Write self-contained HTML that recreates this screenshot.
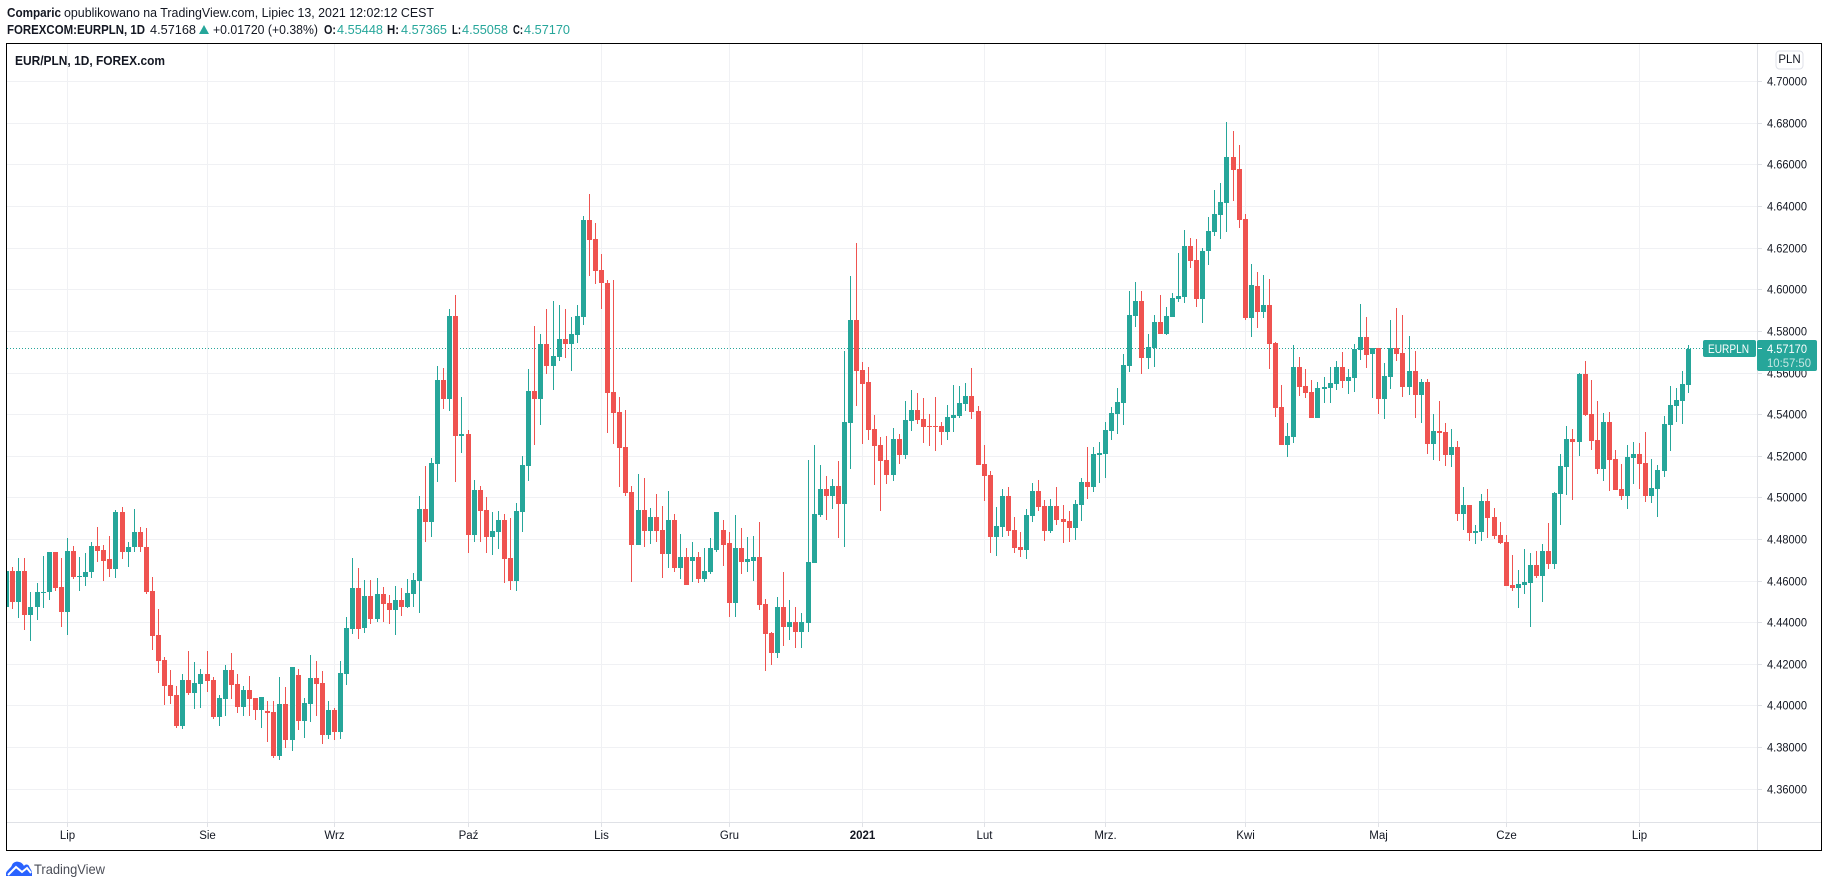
<!DOCTYPE html>
<html lang="pl">
<head>
<meta charset="utf-8">
<title>EUR/PLN, 1D, FOREX.com</title>
<style>
html,body{margin:0;padding:0;background:#fff;width:1828px;height:887px;overflow:hidden}
svg{display:block}
text{font-family:"Liberation Sans",sans-serif;fill:#131722}
.c{shape-rendering:crispEdges}
</style>
</head>
<body>
<svg id="root" width="1828" height="887" viewBox="0 0 1828 887" xmlns="http://www.w3.org/2000/svg">
  <defs><clipPath id="paneClip"><rect x="7" y="44" width="1750" height="778"/></clipPath></defs>
  <g>
    <text x="7" y="17" font-size="12.5" font-weight="700" textLength="54" lengthAdjust="spacingAndGlyphs">Comparic</text>
    <text x="64" y="17" font-size="12.5" textLength="370" lengthAdjust="spacingAndGlyphs">opublikowano na TradingView.com, Lipiec 13, 2021 12:02:12 CEST</text>
    <text x="7" y="34" font-size="12.5" font-weight="700" textLength="138" lengthAdjust="spacingAndGlyphs">FOREXCOM:EURPLN, 1D</text>
    <text x="150" y="34" font-size="12.5" textLength="46" lengthAdjust="spacingAndGlyphs">4.57168</text>
    <polygon points="199,34 209,34 204,25" fill="#26a69a"/>
    <text x="213" y="34" font-size="12.5" textLength="105" lengthAdjust="spacingAndGlyphs">+0.01720 (+0.38%)</text>
    <text x="324" y="34" font-size="12.5" font-weight="700" textLength="12" lengthAdjust="spacingAndGlyphs">O:</text>
    <text x="337" y="34" font-size="12.5" style="fill:#26a69a" textLength="46" lengthAdjust="spacingAndGlyphs">4.55448</text>
    <text x="387" y="34" font-size="12.5" font-weight="700" textLength="12" lengthAdjust="spacingAndGlyphs">H:</text>
    <text x="401" y="34" font-size="12.5" style="fill:#26a69a" textLength="46" lengthAdjust="spacingAndGlyphs">4.57365</text>
    <text x="452" y="34" font-size="12.5" font-weight="700" textLength="9" lengthAdjust="spacingAndGlyphs">L:</text>
    <text x="462" y="34" font-size="12.5" style="fill:#26a69a" textLength="46" lengthAdjust="spacingAndGlyphs">4.55058</text>
    <text x="513" y="34" font-size="12.5" font-weight="700" textLength="10" lengthAdjust="spacingAndGlyphs">C:</text>
    <text x="524" y="34" font-size="12.5" style="fill:#26a69a" textLength="46" lengthAdjust="spacingAndGlyphs">4.57170</text>
  </g>
  <g id="grid" class="c"></g>
  <g id="axes"></g>
  <g id="lastLine"></g>
  <g id="candles" class="c" clip-path="url(#paneClip)"></g>
  <text x="15" y="65" font-size="13" font-weight="700" textLength="150" lengthAdjust="spacingAndGlyphs">EUR/PLN, 1D, FOREX.com</text>
  <g>
    <rect x="1776" y="51" width="27" height="18" rx="3.5" fill="#fff" stroke="#dfe1e8"/>
    <text x="1789.5" y="63" font-size="11.5" text-anchor="middle">PLN</text>
  </g>
  <g id="tags">
    <rect x="1703" y="340" width="53" height="17" rx="2" fill="#26a69a"/>
    <text x="1708" y="353" font-size="11.5" style="fill:#fff" textLength="41" lengthAdjust="spacingAndGlyphs">EURPLN</text>
    <rect x="1757" y="340" width="60" height="31" rx="2" fill="#26a69a"/>
    <rect x="1758" y="348" width="4" height="1" fill="#fff" class="c"/>
    <text x="1767" y="353" font-size="11.5" style="fill:#fff" textLength="40" lengthAdjust="spacingAndGlyphs">4.57170</text>
    <text x="1767" y="367" font-size="11.5" style="fill:#c4e6e2" textLength="44" lengthAdjust="spacingAndGlyphs">10:57:50</text>
  </g>
  <rect x="6.5" y="43.5" width="1815" height="807" fill="none" stroke="#000" stroke-width="1" class="c"/>
  <g>
    <path d="M6 876 L6 873 C7 870 11 868 12 865 C13 862 17 861 19 862 C21 862 23 864 24 866 C25 864 28 864 29 866 C30 869 32 870 32 873 L32 876 Z" fill="#2962ff"/>
    <path d="M8 875 L16 867 L22 872 L27 868 L31 873" fill="none" stroke="#fff" stroke-width="2"/>
    <text x="34" y="874" font-size="14" style="fill:#4a4d57" textLength="71" lengthAdjust="spacingAndGlyphs">TradingView</text>
  </g>
</svg>
<script>
const opens = [4.4475,
4.4651,4.4499,4.4651,4.4435,4.4474,4.4541,4.4546,4.4742,4.4570,4.4450,
4.4747,4.4618,4.4622,4.4642,4.4771,4.4752,4.4704,4.4656,4.4934,4.4742,
4.4762,4.4834,4.4766,4.4555,4.4339,4.4219,4.4099,4.4051,4.3902,4.4123,
4.4061,4.4104,4.4152,4.4123,4.3946,4.4032,4.4171,4.4104,4.3994,4.4075,
4.4037,4.3979,4.3974,4.3970,4.3758,4.4008,4.3835,4.4147,4.3926,4.4008,
4.4133,4.4109,4.3859,4.3979,4.3874,4.4152,4.4368,4.4565,4.4375,4.4528,
4.4418,4.4538,4.4494,4.4461,4.4509,4.4475,4.4538,4.4600,4.4946,4.4883,
4.5162,4.5565,4.5474,4.5872,4.5296,4.5306,4.4821,4.5037,4.4941,4.4811,
4.4835,4.4893,4.4710,4.4600,4.4931,4.5152,4.5512,4.5474,4.5738,4.5632,
4.5675,4.5762,4.5738,4.5781,4.5867,4.6336,4.6244,4.6096,4.6035,4.5507,
4.5411,4.5243,4.5027,4.4773,4.4941,4.4840,4.4907,4.4845,4.4730,4.4893,
4.4662,4.4715,4.4699,4.4714,4.4608,4.4646,4.4752,4.4848,4.4781,4.4493,
4.4757,4.4690,4.4699,4.4718,4.4488,4.4349,4.4253,4.4478,4.4378,4.4402,
4.4354,4.4397,4.4685,4.4920,4.5045,4.5011,4.5059,4.4973,4.5362,4.5855,
4.5615,4.5558,4.5333,4.5256,4.5184,4.5112,4.5285,4.5208,4.5371,4.5424,
4.5381,4.5347,4.5347,4.5347,4.5318,4.5386,4.5395,4.5453,4.5491,4.5419,
4.5165,4.5112,4.4814,4.4862,4.5011,4.4848,4.4762,4.4752,4.4915,4.5035,
4.4963,4.4843,4.4963,4.4901,4.4891,4.4853,4.4968,4.5078,4.5050,4.5208,
4.5213,4.5323,4.5405,4.5458,4.5635,4.5875,4.5947,4.5674,4.5722,4.5846,
4.5789,4.5870,4.5957,4.5966,4.6211,4.6144,4.5957,4.6187,4.6278,4.6360,
4.6418,4.6638,4.6581,4.6341,4.5866,4.6019,4.5894,4.5928,4.5746,4.5438,
4.5256,4.5294,4.5630,4.5539,4.5510,4.5386,4.5525,4.5530,4.5549,4.5630,
4.5563,4.5578,4.5712,4.5774,4.5691,4.5720,4.5475,4.5581,4.5720,4.5696,
4.5533,4.5610,4.5494,4.5557,4.5259,4.5322,4.5317,4.5206,4.5245,4.4923,
4.4966,4.4832,4.4837,4.4986,4.4909,4.4822,4.4789,4.4582,4.4568,4.4582,
4.4592,4.4678,4.4626,4.4746,4.4683,4.5019,4.5149,4.5283,4.5269,4.5595,
4.5403,4.5278,4.5139,4.5365,4.5187,4.5043,4.5010,4.5192,4.5211,4.5168,
4.5010,4.5043,4.5130,4.5350,4.5442,4.5466,4.55448];
const highs = [4.4670,
4.4670,4.4709,4.4709,4.4550,4.4589,4.4723,4.4742,4.4742,4.4709,4.4805,
4.4771,4.4714,4.4733,4.4786,4.4862,4.4776,4.4819,4.4944,4.4954,4.4790,
4.4949,4.4858,4.4853,4.4618,4.4464,4.4234,4.4171,4.4094,4.4152,4.4262,
4.4210,4.4176,4.4262,4.4138,4.4051,4.4195,4.4253,4.4152,4.4094,4.4142,
4.4037,4.4042,4.4022,4.4022,4.4138,4.4090,4.4186,4.4176,4.4037,4.4243,
4.4214,4.4166,4.4022,4.3989,4.4214,4.4426,4.4709,4.4661,4.4605,4.4605,
4.4614,4.4571,4.4533,4.4576,4.4566,4.4610,4.4638,4.5008,4.5152,4.5190,
4.5632,4.5622,4.5906,4.5973,4.5483,4.5325,4.5085,4.5056,4.5003,4.4931,
4.4936,4.4922,4.4902,4.4974,4.5200,4.5618,4.5824,4.5786,4.5910,4.5944,
4.5925,4.5906,4.5867,4.5925,4.6355,4.6460,4.6321,4.6172,4.6045,4.6045,
4.5483,4.5421,4.5056,4.5114,4.5094,4.4950,4.5018,4.4960,4.5032,4.4922,
4.4826,4.4759,4.4790,4.4742,4.4757,4.4805,4.4934,4.4896,4.4838,4.4920,
4.4853,4.4810,4.4819,4.4882,4.4512,4.4358,4.4522,4.4642,4.4507,4.4474,
4.4445,4.5184,4.5256,4.5160,4.5107,4.5093,4.5179,4.5706,4.6067,4.6225,
4.5654,4.5630,4.5400,4.5294,4.5299,4.5338,4.5309,4.5467,4.5520,4.5506,
4.5482,4.5405,4.5486,4.5366,4.5448,4.5544,4.5539,4.5554,4.5624,4.5443,
4.5256,4.5131,4.4958,4.5045,4.5050,4.4910,4.4834,4.4949,4.5074,4.5088,
4.4992,4.4997,4.5054,4.4968,4.4939,4.4992,4.5098,4.5246,4.5246,4.5270,
4.5366,4.5438,4.5530,4.5693,4.5995,4.6038,4.5995,4.5789,4.5880,4.5976,
4.5918,4.5986,4.6178,4.6288,4.6250,4.6245,4.6202,4.6350,4.6480,4.6514,
4.6806,4.6763,4.6696,4.6365,4.6125,4.6086,4.6072,4.6053,4.5750,4.5544,
4.5362,4.5736,4.5678,4.5621,4.5568,4.5558,4.5582,4.5630,4.5659,4.5702,
4.5621,4.5741,4.5933,4.5870,4.5720,4.5720,4.5648,4.5854,4.5912,4.5878,
4.5778,4.5706,4.5571,4.5571,4.5403,4.5466,4.5360,4.5331,4.5274,4.5053,
4.4966,4.4870,4.5019,4.5043,4.4952,4.4885,4.4822,4.4726,4.4654,4.4755,
4.4736,4.4746,4.4779,4.4880,4.5029,4.5211,4.5346,4.5331,4.5600,4.5658,
4.5566,4.5466,4.5408,4.5413,4.5230,4.5163,4.5254,4.5269,4.5264,4.5317,
4.5187,4.5158,4.5394,4.5538,4.5528,4.5610,4.57365];
const lows = [4.4440,
4.4464,4.4421,4.4363,4.4310,4.4411,4.4469,4.4507,4.4555,4.4378,4.4339,
4.4608,4.4555,4.4579,4.4613,4.4694,4.4603,4.4622,4.4613,4.4704,4.4666,
4.4738,4.4742,4.4536,4.4267,4.4157,4.4003,4.4008,4.3893,4.3888,4.4051,
4.3984,4.3989,4.4066,4.3936,4.3902,4.3950,4.4032,4.3965,4.3950,4.3950,
4.3931,4.3893,4.3826,4.3749,4.3739,4.3797,4.3782,4.3883,4.3845,4.3922,
4.3950,4.3816,4.3840,4.3835,4.3840,4.4099,4.4344,4.4320,4.4350,4.4395,
4.4405,4.4405,4.4395,4.4340,4.4432,4.4470,4.4475,4.4446,4.4787,4.4811,
4.5075,4.5426,4.5416,4.5075,4.5214,4.4734,4.4787,4.4787,4.4734,4.4725,
4.4754,4.4590,4.4557,4.4552,4.4835,4.5080,4.5253,4.5349,4.5594,4.5517,
4.5656,4.5670,4.5608,4.5742,4.5829,4.6067,4.6028,4.5906,4.5310,4.5258,
4.5051,4.5008,4.4595,4.4773,4.4763,4.4778,4.4787,4.4614,4.4662,4.4643,
4.4610,4.4581,4.4598,4.4589,4.4598,4.4632,4.4738,4.4675,4.4430,4.4430,
4.4632,4.4642,4.4603,4.4459,4.4166,4.4195,4.4229,4.4286,4.4315,4.4277,
4.4277,4.4358,4.4685,4.4910,4.4896,4.4949,4.4805,4.4766,4.5141,4.5443,
4.5261,4.5280,4.5064,4.4939,4.5069,4.5083,4.5165,4.5189,4.5323,4.5357,
4.5266,4.5251,4.5227,4.5256,4.5280,4.5318,4.5386,4.5419,4.5381,4.5160,
4.4987,4.4733,4.4723,4.4810,4.4819,4.4733,4.4718,4.4704,4.4882,4.4939,
4.4795,4.4829,4.4872,4.4781,4.4790,4.4800,4.4891,4.4997,4.5026,4.5074,
4.5098,4.5280,4.5309,4.5352,4.5606,4.5822,4.5597,4.5621,4.5630,4.5789,
4.5784,4.5870,4.5942,4.5938,4.6106,4.5918,4.5842,4.6120,4.6259,4.6245,
4.6278,4.6427,4.6298,4.5856,4.5774,4.5818,4.5866,4.5621,4.5390,4.5256,
4.5198,4.5266,4.5491,4.5482,4.5386,4.5386,4.5458,4.5458,4.5520,4.5530,
4.5501,4.5510,4.5664,4.5626,4.5480,4.5403,4.5379,4.5523,4.5658,4.5485,
4.5494,4.5384,4.5360,4.5211,4.5182,4.5178,4.5154,4.5149,4.4890,4.4846,
4.4794,4.4779,4.4794,4.4808,4.4803,4.4779,4.4578,4.4554,4.4472,4.4539,
4.4381,4.4616,4.4501,4.4659,4.4659,4.4870,4.5014,4.4990,4.5202,4.5394,
4.5230,4.5115,4.5082,4.5034,4.5038,4.4990,4.4947,4.5067,4.5043,4.4981,
4.4976,4.4909,4.5101,4.5226,4.5365,4.5355,4.55058];
const closes = [4.4651,
4.4499,4.4651,4.4435,4.4478,4.4546,4.4550,4.4742,4.4565,4.4450,4.4747,
4.4618,4.4627,4.4646,4.4771,4.4747,4.4699,4.4656,4.4934,4.4742,4.4766,
4.4834,4.4762,4.4550,4.4334,4.4214,4.4094,4.4046,4.3902,4.4123,4.4061,
4.4109,4.4152,4.4118,4.3946,4.4037,4.4171,4.4099,4.3994,4.4075,4.4032,
4.3979,4.4042,4.3965,4.3758,4.4008,4.3835,4.4186,4.3926,4.4013,4.4133,
4.4104,4.3859,4.3979,4.3874,4.4157,4.4373,4.4565,4.4368,4.4528,4.4418,
4.4538,4.4490,4.4461,4.4509,4.4475,4.4542,4.4605,4.4946,4.4883,4.5166,
4.5565,4.5474,4.5872,4.5296,4.5306,4.4821,4.5037,4.4936,4.4811,4.4840,
4.4893,4.4706,4.4600,4.4936,4.5157,4.5512,4.5474,4.5738,4.5632,4.5680,
4.5762,4.5738,4.5786,4.5872,4.6335,4.6240,4.6091,4.6033,4.5502,4.5406,
4.5238,4.5022,4.4773,4.4941,4.4840,4.4907,4.4840,4.4730,4.4893,4.4662,
4.4715,4.4581,4.4714,4.4608,4.4651,4.4757,4.4934,4.4776,4.4493,4.4757,
4.4690,4.4704,4.4718,4.4483,4.4344,4.4253,4.4478,4.4378,4.4402,4.4354,
4.4402,4.4690,4.4925,4.5045,4.5011,4.5059,4.4973,4.5366,4.5855,4.5611,
4.5549,4.5328,4.5251,4.5179,4.5112,4.5285,4.5208,4.5376,4.5424,4.5376,
4.5342,4.5342,4.5342,4.5318,4.5390,4.5400,4.5458,4.5491,4.5414,4.5160,
4.5107,4.4814,4.4867,4.5011,4.4843,4.4757,4.4752,4.4920,4.5035,4.4958,
4.4843,4.4963,4.4896,4.4886,4.4853,4.4973,4.5078,4.5050,4.5213,4.5218,
4.5328,4.5410,4.5462,4.5640,4.5880,4.5947,4.5674,4.5726,4.5846,4.5789,
4.5875,4.5962,4.5971,4.6211,4.6139,4.5957,4.6187,4.6283,4.6365,4.6422,
4.6638,4.6576,4.6336,4.5866,4.6024,4.5894,4.5928,4.5741,4.5434,4.5256,
4.5299,4.5630,4.5534,4.5506,4.5386,4.5530,4.5534,4.5554,4.5630,4.5563,
4.5582,4.5717,4.5774,4.5688,4.5720,4.5475,4.5586,4.5720,4.5691,4.5533,
4.5610,4.5494,4.5557,4.5259,4.5322,4.5312,4.5206,4.5245,4.4923,4.4966,
4.4832,4.4842,4.4986,4.4904,4.4818,4.4784,4.4578,4.4568,4.4587,4.4597,
4.4678,4.4626,4.4746,4.4683,4.5024,4.5154,4.5283,4.5269,4.5595,4.5398,
4.5274,4.5139,4.5365,4.5182,4.5038,4.5010,4.5197,4.5211,4.5163,4.5010,
4.5048,4.5134,4.5355,4.5446,4.5470,4.5547,4.57170];
const priceTicks = [4.36,4.38,4.40,4.42,4.44,4.46,4.48,4.50,4.52,4.54,4.56,4.58,4.60,4.62,4.64,4.66,4.68,4.70];
const monthLabels = ["Lip","Sie","Wrz","Paź","Lis","Gru","2021","Lut","Mrz.","Kwi","Maj","Cze","Lip"];
const monthBars = [10,33,54,76,98,119,141,161,181,204,226,247,269];
const lastPrice = 4.57170;

const NS = "http://www.w3.org/2000/svg";
function yScale(p){ return 81.7 + (4.70 - p) * 2081; }
function xScale(k){ return Math.floor(6.68 + k * 6.0709); }
function mk(tag, attrs, parent){
  const e = document.createElementNS(NS, tag);
  for (const a in attrs) e.setAttribute(a, attrs[a]);
  parent.appendChild(e);
  return e;
}
const gridG = document.getElementById("grid");
const axesG = document.getElementById("axes");
const lastG = document.getElementById("lastLine");
const candlesG = document.getElementById("candles");
const GRID = "#f0f1f4", AXIS = "#dfe1e6";

priceTicks.forEach(function(p){
  const y = Math.floor(yScale(p));
  const line = mk("rect", {x:7, y:y, width:1750, height:1, fill:GRID}, gridG);
  
  
  const tick = mk("rect", {x:1758, y:y, width:4, height:1, fill:AXIS, class:"c"}, axesG);
  
  
  const label = mk("text", {x:1767, y:y+4.5, "font-size":11.5, textLength:40, lengthAdjust:"spacingAndGlyphs"}, axesG);
  label.textContent = p.toFixed(5);
  
  
});
monthBars.forEach(function(k, i){
  const x = xScale(k);
  const line = mk("rect", {x:x, y:44, width:1, height:778, fill:GRID}, gridG);
  
  
  const tick = mk("rect", {x:x, y:823, width:1, height:4, fill:AXIS, class:"c"}, axesG);
  
  
  const label = mk("text", {x:x+0.5, y:839, "font-size":11.5, "text-anchor":"middle"}, axesG);
  if (monthLabels[i] === "2021") label.setAttribute("font-weight", "700");
  label.textContent = monthLabels[i];
  
  
});
const priceAxisLine = mk("rect", {x:1757, y:44, width:1, height:806, fill:AXIS, class:"c"}, axesG);


const timeAxisLine = mk("rect", {x:7, y:822, width:1814, height:1, fill:AXIS, class:"c"}, axesG);



const ly = Math.floor(yScale(lastPrice)) + 0.5;
const dotted = mk("line", {x1:7, x2:1703, y1:ly, y2:ly, stroke:"#26a69a", "stroke-width":1, "stroke-dasharray":"1 2"}, lastG);



opens.forEach(function(o, k){
  const h = highs[k], l = lows[k], c = closes[k];
  const col = c >= o ? "#26a69a" : "#ef5350";
  const x = xScale(k);
  const top = Math.round(yScale(Math.max(o, c)));
  const bot = Math.round(yScale(Math.min(o, c)));
  const wt = Math.round(yScale(h));
  const wb = Math.round(yScale(l));
  const wick = mk("rect", {x:x, y:wt, width:1, height:Math.max(1, wb - wt), fill:col}, candlesG);
  
  
  const body = mk("rect", {x:x-2, y:top, width:5, height:Math.max(1, bot - top), fill:col}, candlesG);
  
  
});
</script>
</body>
</html>
